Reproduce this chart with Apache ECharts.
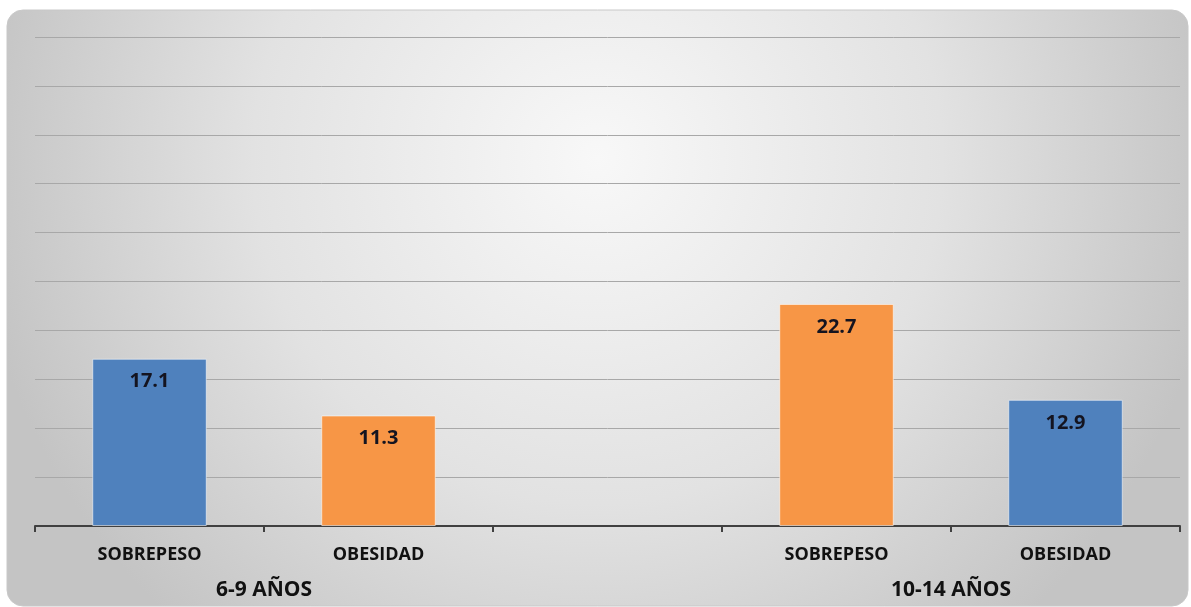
<!DOCTYPE html>
<html>
<head>
<meta charset="utf-8">
<script src="https://cdn.jsdelivr.net/npm/echarts@6/dist/echarts.min.js"></script>
<style>
html,body{margin:0;padding:0;background:#ffffff;}
#chart{width:1191px;height:607px;}
</style>
</head>
<body>
<div id="chart"></div>
<script>
const categories = ['SOBREPESO', 'OBESIDAD', '', 'SOBREPESO', 'OBESIDAD'];
const values = [17.1, 11.3, null, 22.7, 12.9];
const groupLabels = ['', '6-9 AÑOS', '', '', '10-14 AÑOS', ''];
const barColors = ['#4F81BD', '#F79646', '#4F81BD', '#F79646', '#4F81BD'];
const yMin = 0, yMax = 50, yInterval = 5;

const FONT = '"Open Sans", "Noto Sans", sans-serif';
const chart = echarts.init(document.getElementById('chart'), null, {renderer: 'canvas'});
chart.setOption({
  animation: false,
  graphic: [{
    type: 'rect',
    z: -10,
    silent: true,
    shape: {x: 7, y: 10, width: 1181, height: 596, r: 16},
    style: {
      fill: {
        type: 'radial', x: 0.5, y: 0.25, r: 1.05,
        colorStops: [{offset: 0, color: '#f8f8f8'}, {offset: 0.55, color: '#e2e2e2'}, {offset: 1, color: '#c4c4c4'}]
      },
      stroke: '#c8c8c8', lineWidth: 1
    }
  }],
  grid: {left: 35, right: 11, top: 37, bottom: 81, containLabel: false},
  xAxis: [{
    type: 'category',
    data: categories,
    position: 'bottom',
    boundaryGap: true,
    axisLine: {show: true, lineStyle: {color: '#404040', width: 2}},
    axisTick: {show: true, length: 6, lineStyle: {color: '#404040', width: 2}},
    axisLabel: {color: '#111', fontFamily: FONT, fontWeight: 'bold', fontSize: 18, margin: 20, interval: 0}
  }, {
    type: 'category',
    data: groupLabels,
    position: 'bottom',
    boundaryGap: false,
    axisLine: {show: false},
    axisTick: {show: false},
    axisLabel: {color: '#111', fontFamily: FONT, fontWeight: 'bold', fontSize: 21, margin: 54, interval: 0}
  }],
  yAxis: {
    type: 'value',
    min: yMin, max: yMax, interval: yInterval,
    axisLine: {show: false},
    axisTick: {show: false},
    axisLabel: {show: false},
    splitLine: {show: true, lineStyle: {color: '#a8a8a8', width: 1}}
  },
  series: [{
    type: 'bar',
    xAxisIndex: 0,
    data: values.map((v, i) => ({value: v, itemStyle: {color: barColors[i]}})),
    barWidth: '50%',
    itemStyle: {borderColor: 'rgba(255,255,255,0.55)', borderWidth: 1},
    label: {
      show: true, position: 'insideTop', distance: 13,
      color: '#141420', fontFamily: FONT, fontWeight: 'bold', fontSize: 20,
      formatter: p => p.value.toFixed(1)
    }
  }]
});
</script>
</body>
</html>
